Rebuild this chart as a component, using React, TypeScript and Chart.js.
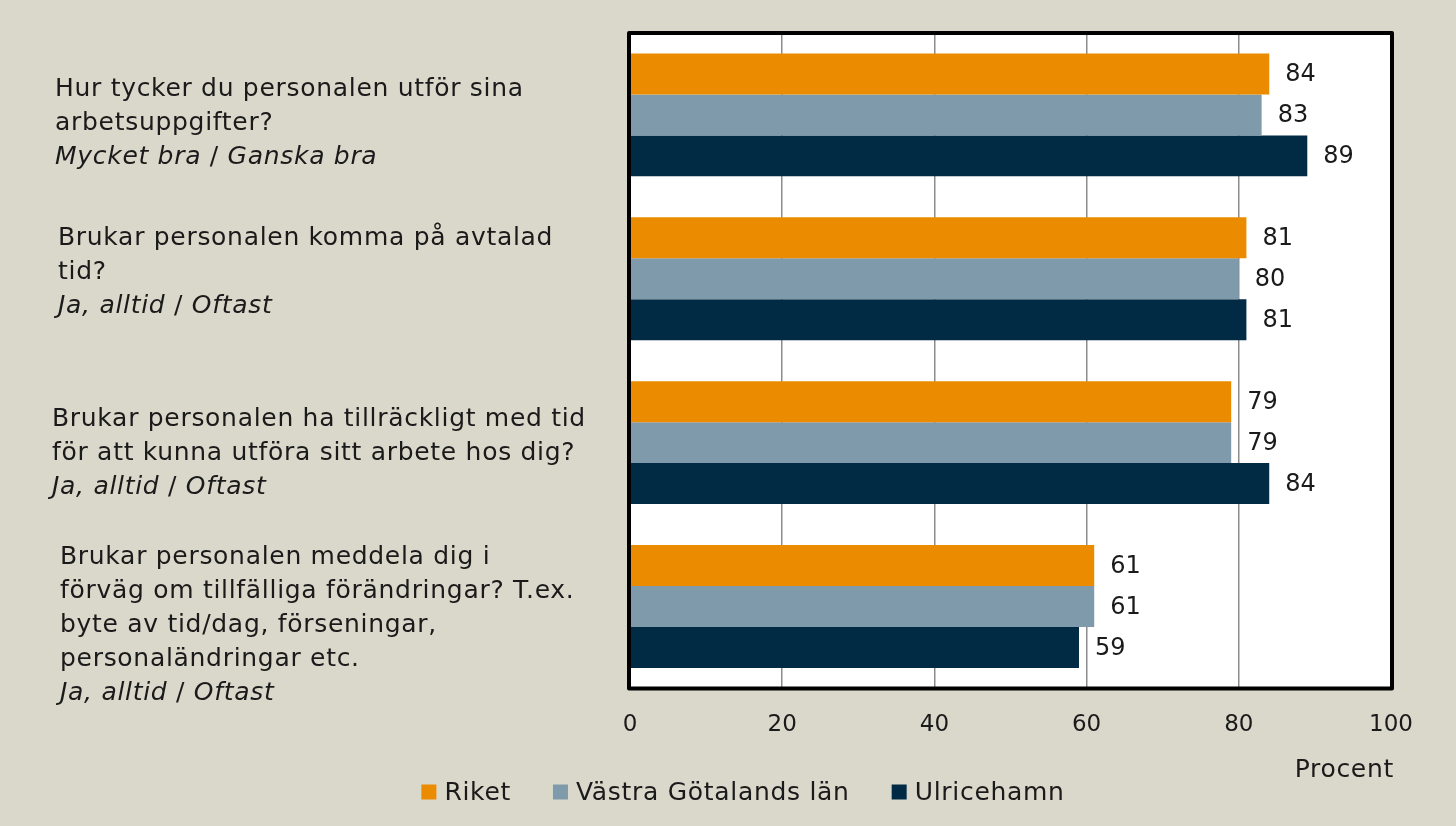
import React, { useEffect, useRef } from "react";
import { Chart, registerables } from "chart.js";

Chart.register(...registerables);

// ---- Data ----
const categories = [
  "Hur tycker du personalen utför sina arbetsuppgifter?",
  "Brukar personalen komma på avtalad tid?",
  "Brukar personalen ha tillräckligt med tid för att kunna utföra sitt arbete hos dig?",
  "Brukar personalen meddela dig i förväg om tillfälliga förändringar? T.ex. byte av tid/dag, förseningar, personaländringar etc.",
];
const questionLines = [
  ["Hur tycker du personalen utför sina", "arbetsuppgifter?"],
  ["Brukar personalen komma på avtalad", "tid?"],
  ["Brukar personalen ha tillräckligt med tid", "för att kunna utföra sitt arbete hos dig?"],
  [
    "Brukar personalen meddela dig i",
    "förväg om tillfälliga förändringar? T.ex.",
    "byte av tid/dag, förseningar,",
    "personaländringar etc.",
  ],
];
const answerParts = [
  ["Mycket bra", "Ganska bra"],
  ["Ja, alltid", "Oftast"],
  ["Ja, alltid", "Oftast"],
  ["Ja, alltid", "Oftast"],
];
const seriesNames = ["Riket", "Västra Götalands län", "Ulricehamn"];
const riket = [84, 81, 79, 61];
const vastraGotaland = [83, 80, 79, 61];
const ulricehamn = [89, 81, 84, 59];
const xMin = 0;
const xMax = 100;
const xStep = 20;
const axisTitle = "Procent";

// ---- Styles / layout ----
const COLORS = ["#EB8B00", "#7F9AAB", "#012B45"];
const BG = "#DAD8CB";
const TEXT = "#1A1A1A";
const FONT = "'DejaVu Sans', sans-serif";
const FS = 25;
const LS = "0.7px";
const NUM_FS = 24;
const TICK_FS = 23;
const labelX = [55, 58, 52, 60];
const labelDy = [9, -6, 11, 19];
const LINE_H = 34;
const LEGEND_CX = 743;
const LEGEND_CY = 792;
const TITLE_CY = 770;

const decoPlugin = {
  id: "deco",
  beforeDraw(chart: any) {
    const { ctx, chartArea: a, width, height } = chart;
    ctx.save();
    ctx.fillStyle = BG;
    ctx.fillRect(0, 0, width, height);
    ctx.fillStyle = "#FFFFFF";
    ctx.fillRect(a.left, a.top, a.right - a.left, a.bottom - a.top);
    ctx.restore();
  },
  afterDatasetsDraw(chart: any) {
    const { ctx } = chart;
    ctx.save();
    ctx.font = `${NUM_FS}px ${FONT}`;
    ctx.fillStyle = TEXT;
    ctx.textAlign = "left";
    ctx.textBaseline = "middle";
    chart.data.datasets.forEach((ds: any, di: number) => {
      const meta = chart.getDatasetMeta(di);
      meta.data.forEach((el: any, i: number) => {
        ctx.fillText(String(ds.data[i]), el.x + 16, el.y + 1);
      });
    });
    ctx.restore();
  },
  afterDraw(chart: any) {
    const { ctx, chartArea: a } = chart;
    ctx.save();
    // border
    ctx.strokeStyle = "#000000";
    ctx.lineWidth = 4;
    ctx.lineJoin = "round";
    ctx.strokeRect(a.left - 1, a.top, a.right - a.left + 2, a.bottom - a.top);

    // left labels
    const yScale = chart.scales.y;
    ctx.fillStyle = TEXT;
    ctx.textBaseline = "middle";
    ctx.textAlign = "left";
    (ctx as any).letterSpacing = LS;
    const normal = `${FS}px ${FONT}`;
    const italic = `italic ${FS}px ${FONT}`;
    questionLines.forEach((lines, i) => {
      const n = lines.length + 1;
      const cy = yScale.getPixelForValue(i) + labelDy[i];
      const y0 = cy - ((n - 1) / 2) * LINE_H;
      const x = labelX[i];
      ctx.font = normal;
      lines.forEach((ln, j) => ctx.fillText(ln, x, y0 + j * LINE_H));
      const ya = y0 + lines.length * LINE_H;
      const [p1, p2] = answerParts[i];
      ctx.font = italic;
      ctx.fillText(p1, x, ya);
      let cx = x + ctx.measureText(p1).width;
      ctx.font = normal;
      ctx.fillText(" / ", cx, ya);
      cx += ctx.measureText(" / ").width;
      ctx.font = italic;
      ctx.fillText(p2, cx, ya);
    });

    // axis title
    ctx.font = normal;
    ctx.textAlign = "right";
    ctx.fillText(axisTitle, a.right + 3, TITLE_CY);
    ctx.textAlign = "left";

    // legend
    const box = 15;
    const gapBT = 8;
    const gapItem = 42;
    const widths = seriesNames.map((s) => ctx.measureText(s).width);
    const total =
      widths.reduce((s, w) => s + w + box + gapBT, 0) + gapItem * (seriesNames.length - 1);
    let lx = LEGEND_CX - total / 2;
    seriesNames.forEach((s, i) => {
      ctx.fillStyle = COLORS[i];
      ctx.fillRect(lx, LEGEND_CY - box / 2, box, box);
      ctx.fillStyle = TEXT;
      ctx.fillText(s, lx + box + gapBT, LEGEND_CY + 1);
      lx += box + gapBT + widths[i] + gapItem;
    });
    ctx.restore();
  },
};

export default function App() {
  const ref = useRef<HTMLCanvasElement | null>(null);
  useEffect(() => {
    if (!ref.current) return;
    const seriesData = [riket, vastraGotaland, ulricehamn];
    const chart = new Chart(ref.current, {
      type: "bar",
      data: {
        labels: categories,
        datasets: seriesNames.map((name, i) => ({
          label: name,
          data: seriesData[i],
          backgroundColor: COLORS[i],
          borderWidth: 0,
          barPercentage: 1,
          categoryPercentage: 0.75,
        })),
      },
      options: {
        indexAxis: "y",
        responsive: false,
        animation: false,
        devicePixelRatio: 1,
        layout: { padding: { left: 30, right: 65, top: 33, bottom: 64 } },
        plugins: {
          legend: { display: false },
          tooltip: { enabled: false },
        },
        scales: {
          x: {
            min: xMin,
            max: xMax,
            ticks: {
              stepSize: xStep,
              color: TEXT,
              font: { family: FONT, size: TICK_FS },
              padding: 23,
            },
            grid: { color: "#8C8C8C", lineWidth: 1.5, drawTicks: false },
            border: { display: false },
            title: { display: false },
          },
          y: {
            type: "category",
            ticks: { display: false },
            grid: { display: false },
            border: { display: false },
            afterFit: (s: any) => {
              s.width = 600;
            },
          },
        },
      } as any,
      plugins: [decoPlugin],
    });
    return () => chart.destroy();
  }, []);
  return (
    <div style={{ position: "absolute", left: 0, top: 0, width: 1456, height: 826, background: BG }}>
      <canvas ref={ref} width={1456} height={826} style={{ display: "block" }} />
    </div>
  );
}
